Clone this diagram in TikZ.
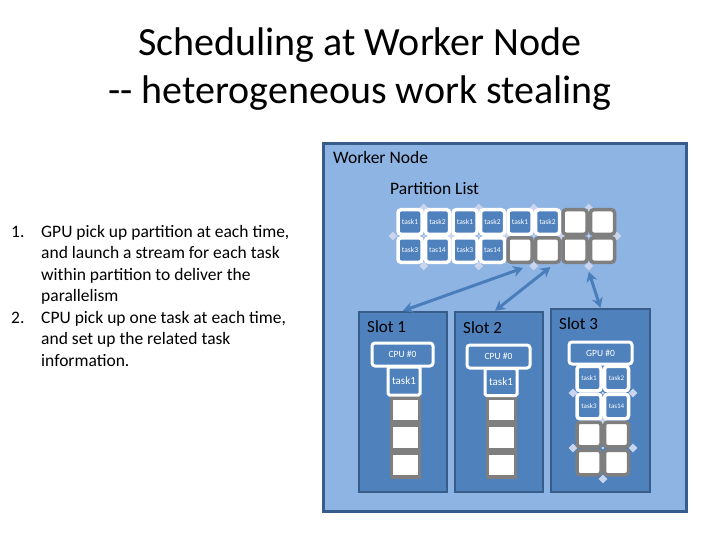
\documentclass[tikz,border=0pt]{standalone}
\usepackage{fontspec}
\setmainfont{Carlito}
\usetikzlibrary{arrows.meta,shapes.geometric,calc}
\definecolor{outerfill}{HTML}{8EB4E3}
\definecolor{darkb}{HTML}{385D8A}
\definecolor{slotfill}{HTML}{4F81BD}
\definecolor{grayb}{HTML}{7F7F7F}
\definecolor{diam}{HTML}{CAD4EC}
\definecolor{arrowc}{HTML}{4A7EBB}
\begin{document}
\begin{tikzpicture}[x=1pt,y=-1pt,
  cellbase/.style={line width=3.5pt, rounded corners=3pt, minimum width=24pt, minimum height=24.5pt, inner sep=0pt},
  bluecell/.style={cellbase, draw=white, fill=slotfill, text=white, font=\fontsize{7.5}{8}\selectfont},
  graycell/.style={cellbase, draw=grayb, fill=white},
  slotcell/.style={line width=3.5pt, draw=grayb, fill=white, minimum width=28pt, minimum height=24pt, inner sep=0pt},
  dia/.style={diamond, fill=diam, minimum size=9pt, inner sep=0pt},
  cdot/.style={circle, fill=diam, minimum size=3pt, inner sep=0pt},
  slotbox/.style={draw=darkb, fill=slotfill, line width=2.5pt, inner sep=0pt},
  procbox/.style={draw=white, fill=slotfill, line width=3pt, rounded corners=3pt, inner sep=0pt, text=white, font=\fontsize{9.5}{10}\selectfont},
  taskbox/.style={draw=white, fill=slotfill, line width=3pt, rounded corners=1.5pt, inner sep=0pt, text=white, font=\fontsize{11}{12}\selectfont},
  label/.style={inner sep=0pt, anchor=base west, font=\fontsize{17.5}{21}\selectfont},
  dbl/.style={draw=arrowc, line width=3pt, {Stealth[length=10pt,width=11pt]}-{Stealth[length=10pt,width=11pt]}}
]
\useasboundingbox (0,0) rectangle (720,540);
% title
\node[inner sep=0pt, align=center, font=\fontsize{40}{48}\selectfont, anchor=base] (title) at (360,104)
  {Scheduling at Worker Node\\-{}- heterogeneous work stealing};
% left list
\node[inner sep=0pt, anchor=north west, font=\fontsize{17.5}{21.5}\selectfont] (list) at (11,222)
 {\begin{tabular}[t]{@{}p{30pt}@{}l@{}}
 1. & GPU pick up partition at each time,\\
    & and launch a stream for each task\\
    & within partition to deliver the\\
    & parallelism\\
 2. & CPU pick up one task at each time,\\
    & and set up the related task\\
    & information.
 \end{tabular}};
% worker node
\node[draw=darkb, fill=outerfill, line width=3pt, minimum width=363pt, minimum height=367pt, inner sep=0pt] (wn) at (504.5,327.5) {};
\node[label] (wnl) at (333,164) {Worker Node};
\node[label] (pl) at (390,195) {Partition List};
% diamonds of the partition list (behind cells)
\foreach \gx/\g in {423.75/A,478.75/B,533.75/C,588.75/D}{
  \node[dia] (t\g) at (\gx,208) {};
  \node[dia] (b\g) at (\gx,266) {};
}
\foreach \lx/\n in {393/1,451.25/2,506.25/3,561.25/4,617/5}{
  \node[dia] (s\n) at (\lx,236) {};
}
% cells
\node[bluecell] (c11) at (410,222) {task1};
\node[bluecell] (c12) at (437.5,222) {task2};
\node[bluecell] (c13) at (465,222) {task1};
\node[bluecell] (c14) at (492.5,222) {task2};
\node[bluecell] (c15) at (520,222) {task1};
\node[bluecell] (c16) at (547.5,222) {task2};
\node[graycell] (c17) at (575,222) {};
\node[graycell] (c18) at (602.5,222) {};
\node[bluecell] (c21) at (410,250) {task3};
\node[bluecell] (c22) at (437.5,250) {tas14};
\node[bluecell] (c23) at (465,250) {task3};
\node[bluecell] (c24) at (492.5,250) {tas14};
\node[graycell] (c25) at (520,250) {};
\node[graycell] (c26) at (547.5,250) {};
\node[graycell] (c27) at (575,250) {};
\node[graycell] (c28) at (602.5,250) {};
\foreach \gx/\g in {423.75/A,478.75/B,533.75/C,588.75/D}{
  \node[cdot] (m\g) at (\gx,236) {};
}
% slots
\node[slotbox, minimum width=88pt, minimum height=180pt] (sl1) at (403,402) {};
\node[slotbox, minimum width=88pt, minimum height=180pt] (sl2) at (499,402) {};
\node[slotbox, minimum width=99pt, minimum height=183pt] (sl3) at (600.5,400.5) {};
\node[label, font=\fontsize{17}{20}\selectfont] (sl1l) at (367,332) {Slot 1};
\node[label, font=\fontsize{17}{20}\selectfont] (sl2l) at (463,333) {Slot 2};
\node[label, font=\fontsize{17}{20}\selectfont] (sl3l) at (559,329) {Slot 3};
% slot 1 content
\node[procbox, minimum width=61pt, minimum height=23pt] (cpu1) at (402.5,354.5) {CPU \#0};
\node[slotcell] (a1) at (405.5,410) {};
\node[slotcell] (a2) at (405.5,437.5) {};
\node[slotcell] (a3) at (405.5,465) {};
\node[taskbox, minimum width=32pt, minimum height=28pt] (tk1) at (404,381) {task1};
% slot 2 content
\node[procbox, minimum width=63pt, minimum height=23pt] (cpu2) at (498.5,356.5) {CPU \#0};
\node[slotcell] (e1) at (501.5,410) {};
\node[slotcell] (e2) at (501.5,437.5) {};
\node[slotcell] (e3) at (501.5,465) {};
\node[taskbox, minimum width=32pt, minimum height=27pt] (tk2) at (501,382) {task1};
% slot 3 content
\node[dia] (g1) at (573,393) {};
\node[dia] (g2) at (633,393) {};
\node[dia] (g3) at (573,448) {};
\node[dia] (g4) at (633,448) {};
\node[dia] (g5) at (603,420) {};
\node[dia] (g6) at (603,479) {};
\node[procbox, minimum width=63pt, minimum height=22pt] (gpu) at (600.5,353) {GPU \#0};
\node[bluecell, font=\fontsize{7}{8}\selectfont] (h11) at (589,378.5) {task1};
\node[bluecell, font=\fontsize{7}{8}\selectfont] (h12) at (616.5,378.5) {task2};
\node[bluecell, font=\fontsize{7}{8}\selectfont] (h21) at (589,406.5) {task3};
\node[bluecell, font=\fontsize{7}{8}\selectfont] (h22) at (616.5,406.5) {tas14};
\node[graycell] (h31) at (589,434.5) {};
\node[graycell] (h32) at (616.5,434.5) {};
\node[graycell] (h41) at (589,462.5) {};
\node[graycell] (h42) at (616.5,462.5) {};
\node[cdot] (k1) at (602.75,393) {};
\node[cdot] (k2) at (602.75,448) {};
% arrows
\draw[dbl] (sl1.north) -- ($(c25.south)+(3,4)$);
\draw[dbl] ($(sl2.north)+(-4,0)$) -- ($(c26.south)+(3,3)$);
\draw[dbl] ($(bD.south)+(0,1)$) -- (sl3.north);
\end{tikzpicture}
\end{document}
